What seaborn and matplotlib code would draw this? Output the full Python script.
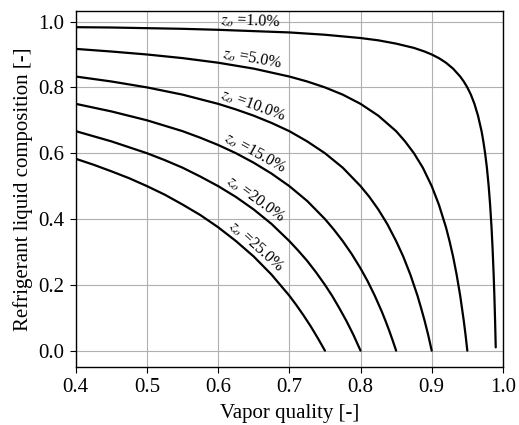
import numpy as np
import pandas as pd
import matplotlib
matplotlib.use("Agg")
import matplotlib.pyplot as plt
import seaborn as sns

# Oil mass fraction in the circulating mixture (%), one curve each
z_o_pct = [1.0, 5.0, 10.0, 15.0, 20.0, 25.0]

# Vapor quality / liquid refrigerant composition pairs for each curve
x_z01 = [0.40, 0.45, 0.50, 0.55, 0.60, 0.65, 0.70, 0.75, 0.80, 0.825, 0.85, 0.875,
         0.89, 0.90, 0.91, 0.92, 0.93, 0.94, 0.945, 0.95, 0.955, 0.96, 0.965, 0.97,
         0.9725, 0.975, 0.9775, 0.98, 0.982, 0.984, 0.9855, 0.987, 0.988, 0.989,
         0.9895, 0.9899]
y_z01 = [0.983, 0.982, 0.980, 0.978, 0.975, 0.971, 0.967, 0.960, 0.950, 0.943, 0.933, 0.920,
         0.909, 0.900, 0.889, 0.875, 0.857, 0.833, 0.818, 0.800, 0.778, 0.750, 0.714, 0.667,
         0.636, 0.600, 0.556, 0.500, 0.444, 0.375, 0.310, 0.231, 0.167, 0.091,
         0.048, 0.010]

x_z05 = [0.40, 0.45, 0.50, 0.55, 0.60, 0.65, 0.70, 0.725, 0.75, 0.775, 0.80, 0.825,
         0.85, 0.8625, 0.875, 0.8875, 0.90, 0.91, 0.92, 0.925, 0.93, 0.935, 0.94,
         0.945, 0.9475, 0.95]
y_z05 = [0.917, 0.909, 0.900, 0.889, 0.875, 0.857, 0.833, 0.818, 0.800, 0.778, 0.750, 0.714,
         0.667, 0.636, 0.600, 0.556, 0.500, 0.444, 0.375, 0.333, 0.286, 0.231, 0.167,
         0.091, 0.048, 0.000]

x_z10 = [0.40, 0.45, 0.50, 0.55, 0.60, 0.625, 0.65, 0.675, 0.70, 0.725, 0.75, 0.775,
         0.80, 0.8125, 0.825, 0.8375, 0.85, 0.86, 0.87, 0.88, 0.885, 0.89, 0.895, 0.90]
y_z10 = [0.833, 0.818, 0.800, 0.778, 0.750, 0.733, 0.714, 0.692, 0.667, 0.636, 0.600, 0.556,
         0.500, 0.467, 0.429, 0.385, 0.333, 0.286, 0.231, 0.167, 0.130, 0.091, 0.048, 0.000]

x_z15 = [0.40, 0.45, 0.50, 0.55, 0.575, 0.60, 0.625, 0.65, 0.675, 0.70, 0.725, 0.75,
         0.7625, 0.775, 0.7875, 0.80, 0.81, 0.82, 0.83, 0.835, 0.84, 0.845, 0.85]
y_z15 = [0.750, 0.727, 0.700, 0.667, 0.647, 0.625, 0.600, 0.571, 0.538, 0.500, 0.455, 0.400,
         0.368, 0.333, 0.294, 0.250, 0.211, 0.167, 0.118, 0.091, 0.0625, 0.032, 0.000]

x_z20 = [0.40, 0.45, 0.50, 0.525, 0.55, 0.575, 0.60, 0.625, 0.65, 0.675, 0.70, 0.7125,
         0.725, 0.7375, 0.75, 0.76, 0.77, 0.78, 0.79, 0.80]
y_z20 = [0.667, 0.636, 0.600, 0.579, 0.556, 0.529, 0.500, 0.467, 0.429, 0.385, 0.333, 0.304,
         0.273, 0.238, 0.200, 0.167, 0.130, 0.091, 0.048, 0.000]

x_z25 = [0.40, 0.425, 0.45, 0.475, 0.50, 0.525, 0.55, 0.575, 0.60, 0.625, 0.65, 0.675,
         0.70, 0.71, 0.72, 0.73, 0.74, 0.75]
y_z25 = [0.583, 0.565, 0.545, 0.524, 0.500, 0.474, 0.444, 0.412, 0.375, 0.333, 0.286, 0.231,
         0.167, 0.138, 0.107, 0.074, 0.038, 0.000]

curves_x = [x_z01, x_z05, x_z10, x_z15, x_z20, x_z25]
curves_y = [y_z01, y_z05, y_z10, y_z15, y_z20, y_z25]

frames = []
for z, xs, ys in zip(z_o_pct, curves_x, curves_y):
    frames.append(pd.DataFrame({"quality": xs, "composition": ys, "z_o": z}))
df = pd.concat(frames, ignore_index=True)

sns.set_theme(style="ticks")
plt.rcParams["font.family"] = ["Liberation Serif", "DejaVu Serif"]
plt.rcParams["mathtext.fontset"] = "stix"
plt.rcParams["axes.edgecolor"] = "black"
plt.rcParams["xtick.color"] = "black"
plt.rcParams["ytick.color"] = "black"

fig = plt.figure(figsize=(5.19, 4.25), dpi=100)
ax = fig.add_axes([0.146, 0.137, 0.823, 0.837])

sns.lineplot(data=df, x="quality", y="composition", hue="z_o",
             palette=["black"] * len(z_o_pct), estimator=None, sort=False,
             linewidth=1.6, legend=False, ax=ax)

ax.set_xlim(0.4, 1.0)
ax.set_ylim(-0.049, 1.032)
ax.set_xticks([0.4, 0.5, 0.6, 0.7, 0.8, 0.9, 1.0])
ax.set_yticks([0.0, 0.2, 0.4, 0.6, 0.8, 1.0])
ax.grid(True, color="#b0b0b0", linewidth=0.8)
ax.tick_params(axis="both", labelsize=15, direction="out", length=4, width=0.8,
               pad=4, colors="black")
ax.set_xlabel("Vapor quality [-]", fontsize=15, color="black", labelpad=5)
ax.set_ylabel("Refrigerant liquid composition [-]", fontsize=15, color="black")
for sp in ax.spines.values():
    sp.set_color("black")
    sp.set_linewidth(1.0)

# Inline curve labels, rotated along each curve and sitting just above it
fig.canvas.draw()
x_lab = 0.645
offset_px = 9.0
for z, xs, ys in zip(z_o_pct, curves_x, curves_y):
    y_lab = np.interp(x_lab, xs, ys)
    p0 = ax.transData.transform((x_lab - 0.01, np.interp(x_lab - 0.01, xs, ys)))
    p1 = ax.transData.transform((x_lab + 0.01, np.interp(x_lab + 0.01, xs, ys)))
    dx, dy = p1 - p0
    ang = np.degrees(np.arctan2(dy, dx))
    nrm = np.array([-dy, dx]) / np.hypot(dx, dy)
    off = nrm * offset_px * 72.0 / fig.dpi
    ax.annotate(r"$z_o$ =%.1f%%" % z, xy=(x_lab, y_lab), xytext=(off[0], off[1]),
                textcoords="offset points", rotation=ang, rotation_mode="anchor",
                ha="center", va="center", fontsize=11.5, color="black")

fig.savefig("out.png", dpi=100)
